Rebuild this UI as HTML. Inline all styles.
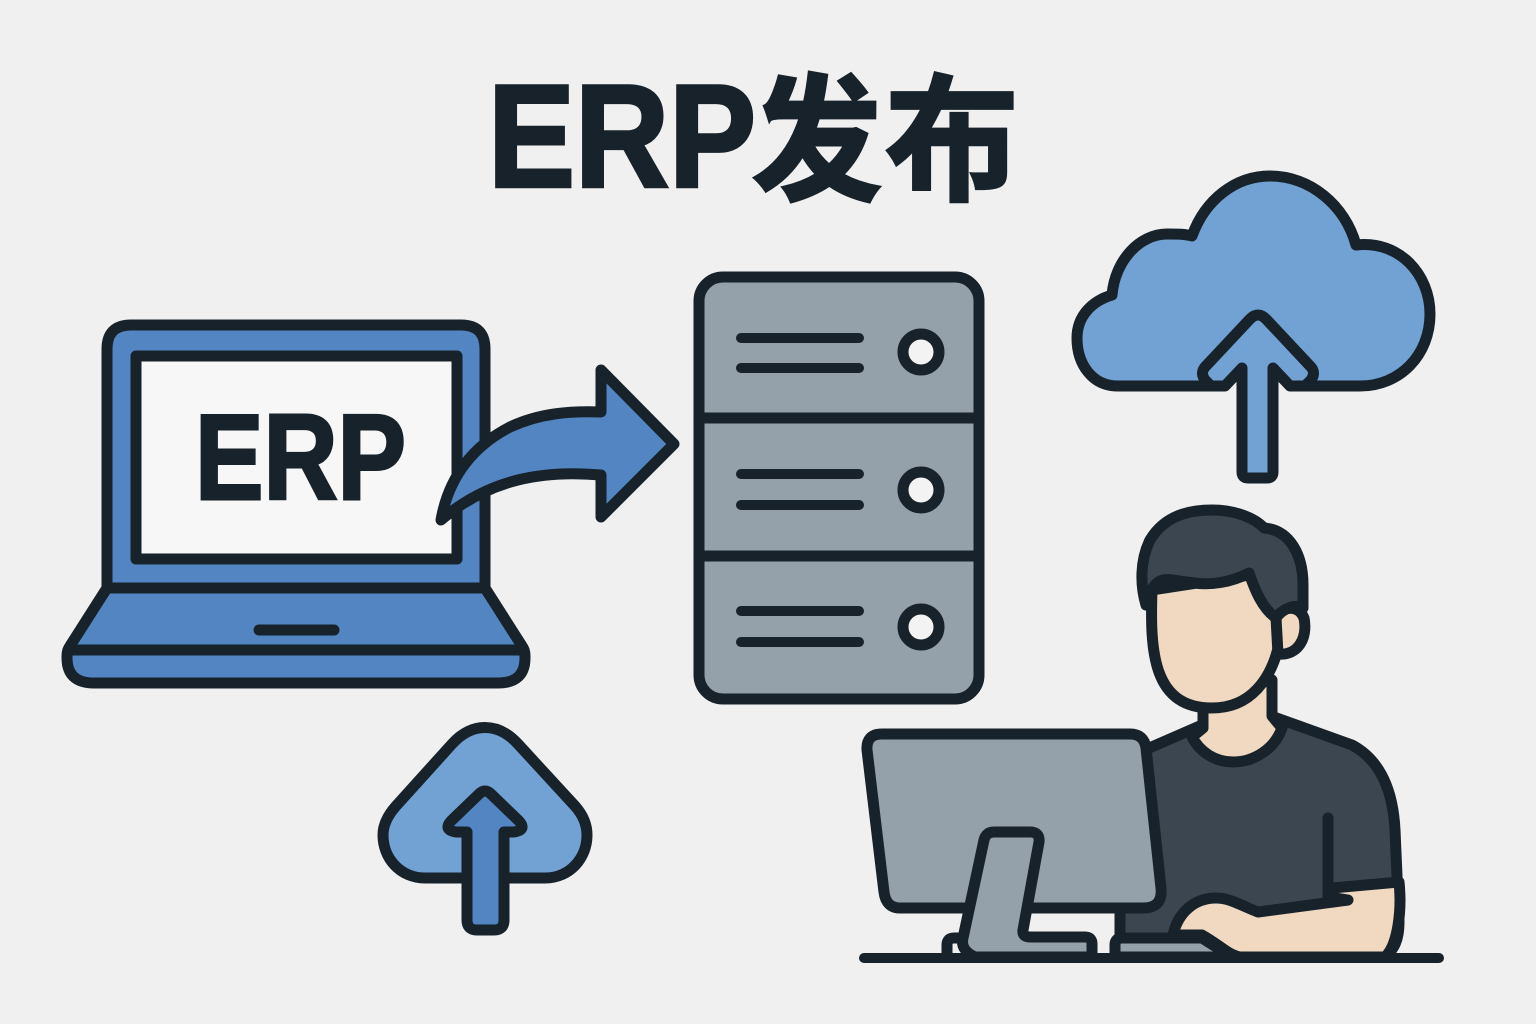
<!DOCTYPE html>
<html><head><meta charset="utf-8"><style>
html,body{margin:0;padding:0;background:#f0f0f0}
svg{display:block}
text{font-family:"Liberation Sans","Noto Sans CJK SC",sans-serif;font-weight:700;fill:#17222a;stroke:#17222a;stroke-linejoin:miter}
</style></head><body>
<svg width="1536" height="1024" viewBox="0 0 1536 1024" xmlns="http://www.w3.org/2000/svg">
<rect width="1536" height="1024" fill="#f0f0f0"/>
<text x="488" y="186.5" font-size="146" stroke-width="3.5" textLength="268" lengthAdjust="spacingAndGlyphs">ERP</text>
<text x="752" y="189.5" font-size="137" stroke-width="3" textLength="130" lengthAdjust="spacingAndGlyphs">发</text>
<text x="885" y="189.5" font-size="137" stroke-width="3" textLength="134" lengthAdjust="spacingAndGlyphs">布</text>
<g stroke="#17222a" stroke-width="11" stroke-linejoin="round" stroke-linecap="round">
<!-- cloud -->
<path d="M1290 386H1360C1400 386 1430 355 1430 314C1430 275 1400 240 1356 245C1345 205 1310 176 1270 176C1235 176 1205 200 1192 236C1185 234 1178 234 1167 234C1140 234 1115 260 1112 295C1092 301 1077 316 1077 338C1077 364 1092 386 1118 386H1225L1242 368V472Q1242 478 1248 478H1267Q1273 478 1273 472V368Z" fill="#72a1d4"/>
<path d="M1210 385L1205 380Q1200 373 1205 367L1250 319Q1258 311 1266 319L1311 367Q1316 373 1311 380L1306 385" fill="none"/>
<!-- laptop -->
<path d="M107 588V349Q107 325 131 325H461Q485 325 485 349V588Z" fill="#5285c1"/>
<rect x="136" y="356" width="321" height="203" fill="#f7f7f7"/>
<path d="M107 588H485L522 646Q525 650 525 656V658Q525 683 498 683H94Q67 683 67 658V656Q67 650 70 646Z" fill="#5285c1"/>
<path d="M68 650H524" fill="none"/>
<path d="M259 630H334" fill="none"/>
<!-- curved arrow -->
<path d="M441 520C449 475 475 445 510 427C540 413 570 411 601 412V370L674 444L601 517V475C545 470 490 478 441 520Z" fill="#5285c1"/>
<!-- server -->
<rect x="699" y="277" width="280" height="422" rx="24" fill="#94a0aa"/>
<path d="M699 418H979M699 556H979" fill="none"/>
<path d="M741 338H859M741 368H859M741 474H859M741 505H859M741 611H859M741 642H859" fill="none" stroke-width="10"/>
<g fill="#f3f3f3">
<circle cx="921" cy="352" r="18"/><circle cx="921" cy="490" r="18"/><circle cx="921" cy="627" r="18"/>
</g>
<!-- small upload -->
<path d="M425 878C400 878 383 858 383 835C383 824 388 815 396 806L452 744C472 722 498 722 518 744L575 806C583 815 587 824 587 835C587 858 570 878 545 878Z" fill="#72a1d4"/>
<path d="M467 832V920Q467 930 477 930H494Q504 930 504 920V832H514Q527 830 519 821L491 794Q485 788 479 794L451 821Q443 830 456 832Z" fill="#5285c1"/>
<!-- person -->
<path d="M1140 752L1202 725L1274 717L1352 745C1380 760 1393 790 1395 830L1399 922C1399 940 1394 950 1385 956H1120V900Z" fill="#3c4650"/>
<path d="M1203 695V728L1192 737C1200 752 1215 762 1233 762C1255 762 1275 748 1282 728L1272 716V680Z" fill="#f0d9c0"/>
<path d="M1152 590C1150 650 1152 708 1212 708C1250 708 1272 680 1280 640L1278 600L1250 575Z" fill="#f0d9c0"/>
<path d="M1276 618C1282 606 1298 604 1304 618C1308 638 1298 656 1278 654Z" fill="#f0d9c0"/>
<path d="M1146 605C1140 585 1140 560 1150 540C1165 515 1190 510 1212 510C1235 510 1255 518 1264 528C1290 530 1303 555 1303 585L1303 608C1295 604 1283 608 1276 618C1262 608 1255 590 1249 573C1230 583 1210 585 1195 583C1180 582 1170 578 1163 580C1155 582 1150 590 1146 605Z" fill="#3c4650"/>
<path d="M1328 818V898" fill="none"/>
<path d="M1348 900L1258 912C1240 905 1230 898 1216 898C1195 898 1178 912 1173 935H1202C1220 945 1228 955 1240 957H1385C1398 945 1402 910 1399 882L1332 888L1329 897Z" fill="#f0d9c0"/>
<!-- monitor -->
<path d="M867 750Q866 734 882 734H1130Q1144 734 1146 748L1161 888Q1163 908 1143 908H900Q886 908 884 892Z" fill="#94a0aa"/>
<path d="M947 957V945Q947 938 954 938H965" fill="none"/>
<path d="M975 957Q960 950 963 938L984 840Q986 832 994 832H1030Q1040 832 1039 842L1023 930Q1022 937 1030 937H1085Q1092 937 1092 944V957Z" fill="#94a0aa"/>
<path d="M1115 957V945Q1115 938 1122 938H1202L1232 957Z" fill="#94a0aa"/>
<path d="M864 958H1439" fill="none" stroke-width="10"/>
</g>
<text x="195" y="499" font-size="122" stroke-width="3" textLength="211" lengthAdjust="spacingAndGlyphs">ERP</text>
</svg>
</body></html>
